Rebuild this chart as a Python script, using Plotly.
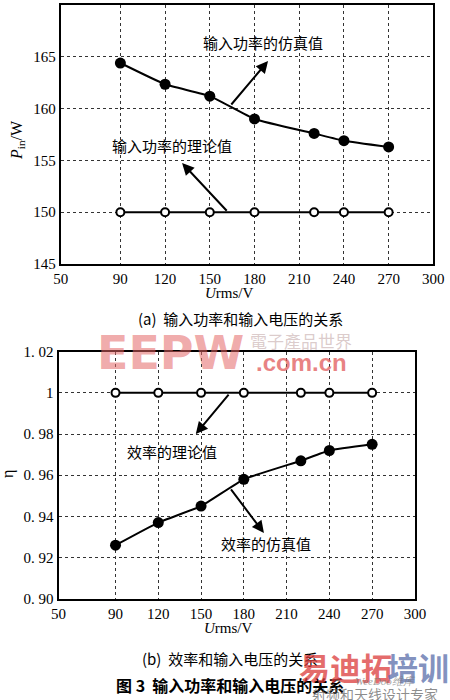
import plotly.graph_objects as go

# ---------------- data ----------------
voltage = [90, 120, 150, 180, 220, 240, 270]
pin_sim = [164.4, 162.35, 161.2, 159.0, 157.6, 156.9, 156.3]
pin_theory = [150, 150, 150, 150, 150, 150, 150]
eff_sim = [0.926, 0.937, 0.945, 0.958, 0.967, 0.972, 0.975]
eff_theory = [1.0, 1.0, 1.0, 1.0, 1.0, 1.0, 1.0]

x_ticks = [50, 90, 120, 150, 180, 210, 240, 270, 300]
pin_ticks = [145, 150, 155, 160, 165, 170]
eff_ticks = [0.90, 0.92, 0.94, 0.96, 0.98, 1.0, 1.02]
eff_ticktext = ["0. 90", "0. 92", "0. 94", "0. 96", "0. 98", "1", "1. 02"]

SERIF = "Liberation Serif, Times New Roman, serif"
CJK = "Noto Sans CJK SC"

fig = go.Figure()

# top chart
fig.add_trace(go.Scatter(x=voltage, y=pin_sim, mode="lines+markers",
                         line=dict(color="black", width=2, shape="spline", smoothing=0.4),
                         marker=dict(size=11, color="black"),
                         xaxis="x", yaxis="y", showlegend=False))
fig.add_trace(go.Scatter(x=voltage, y=pin_theory, mode="lines+markers",
                         line=dict(color="black", width=2),
                         marker=dict(size=8, color="white", line=dict(color="black", width=2)),
                         xaxis="x", yaxis="y", showlegend=False))
# bottom chart
fig.add_trace(go.Scatter(x=voltage, y=eff_sim, mode="lines+markers",
                         line=dict(color="black", width=2, shape="spline", smoothing=0.4),
                         marker=dict(size=11, color="black"),
                         xaxis="x2", yaxis="y2", showlegend=False))
fig.add_trace(go.Scatter(x=voltage, y=eff_theory, mode="lines+markers",
                         line=dict(color="black", width=2),
                         marker=dict(size=8, color="white", line=dict(color="black", width=2)),
                         xaxis="x2", yaxis="y2", showlegend=False))

axis_common = dict(showline=True, linewidth=2, linecolor="black", mirror=True,
                   showgrid=True, gridcolor="#333333", griddash="dot", gridwidth=1,
                   zeroline=False, ticks="", automargin=False, layer="below traces",
                   tickfont=dict(family=SERIF, size=15, color="black"))

fig.update_layout(
    width=450, height=700,
    margin=dict(l=0, r=0, t=0, b=0),
    paper_bgcolor="white", plot_bgcolor="white",
    xaxis=dict(domain=[0.135, 0.963], range=[50, 300], tickvals=x_ticks,
               anchor="y", **axis_common),
    yaxis=dict(domain=[1 - 264 / 700, 1 - 5 / 700], range=[145, 170], tickvals=pin_ticks,
               anchor="x", **axis_common),
    xaxis2=dict(domain=[0.130, 0.922], range=[50, 300], tickvals=x_ticks,
                anchor="y2", **axis_common),
    yaxis2=dict(domain=[1 - 598.7 / 700, 1 - 351.7 / 700], range=[0.90, 1.02],
                tickvals=eff_ticks, ticktext=eff_ticktext,
                anchor="x2", **axis_common),
)

anns = []

def arrow(xr, yr, x0, y0, x1, y1):
    return dict(xref=xr, yref=yr, axref=xr, ayref=yr, x=x1, y=y1, ax=x0, ay=y0,
                text="", showarrow=True, arrowhead=2, arrowsize=1.2, arrowwidth=2,
                arrowcolor="black")

anns.append(arrow("x", "y", 163.6, 160.25, 189.1, 164.6))
anns.append(arrow("x", "y", 162.3, 150.0, 131.4, 154.75))
anns.append(arrow("x2", "y2", 170.2, 0.9999, 146.3, 0.980))
anns.append(arrow("x2", "y2", 170.2, 0.9538, 194.1, 0.9319))

def label(xr, yr, x, y, t, size=15):
    return dict(xref=xr, yref=yr, x=x, y=y, text=t, showarrow=False,
                xanchor="center", yanchor="middle",
                font=dict(family=CJK, size=size, color="black"))

anns.append(label("x", "y", 185.8, 166.4, "输入功率的仿真值"))
anns.append(label("x", "y", 124.7, 156.4, "输入功率的理论值"))
anns.append(label("x2", "y2", 129.5, 0.9713, "效率的理论值"))
anns.append(label("x2", "y2", 195.8, 0.927, "效率的仿真值"))

def px(xp, yp, t, size, family=SERIF, color="black", angle=0):
    return dict(xref="paper", yref="paper", x=xp / 450, y=1 - yp / 700, text=t,
                showarrow=False, textangle=angle, xanchor="center", yanchor="middle",
                font=dict(family=family, size=size, color=color))

# axis titles
anns.append(px(230, 293, "<i>U</i>rms/V", 15))
anns.append(px(228, 628, "<i>U</i>rms/V", 15))
anns.append(px(18, 140, "<i>P</i><sub>in</sub>/W", 16, angle=-90))
anns.append(px(8, 474, "η", 16, angle=-90))

# captions
anns.append(px(240, 318, "(a)  输入功率和输入电压的关系", 15, family=CJK))
anns.append(px(230, 658, "(b)  效率和输入电压的关系", 15, family=CJK))
anns.append(px(230, 685, "<b>图 3  输入功率和输入电压的关系</b>", 16, family=CJK))

# watermarks
anns.append(px(170, 353, "<b>EEPW</b>", 46, family="DejaVu Sans", color="rgba(228,100,100,0.55)"))
anns.append(px(301, 341, "電子產品世界", 17, family="Noto Sans CJK TC", color="rgba(190,160,160,0.55)"))
anns.append(px(301, 362, "<b>.com.cn</b>", 24, family="Liberation Sans", color="rgba(225,90,90,0.75)"))
anns.append(px(345, 666, "<b>易迪拓</b>", 31, family=CJK, color="rgba(220,60,60,0.75)"))
anns.append(px(418, 666, "<b>培训</b>", 31, family=CJK, color="rgba(90,110,170,0.75)"))
anns.append(px(385, 681, "<i>WeeDoo维库</i>", 11, family=SERIF, color="rgba(120,120,120,0.7)"))
anns.append(px(375, 694, "射频和天线设计专家", 14, family=CJK, color="rgba(90,90,90,0.7)"))

fig.update_layout(annotations=anns)

fig.write_html("out.html", config={"displayModeBar": False},
               post_script="document.body.style.margin='0';")
